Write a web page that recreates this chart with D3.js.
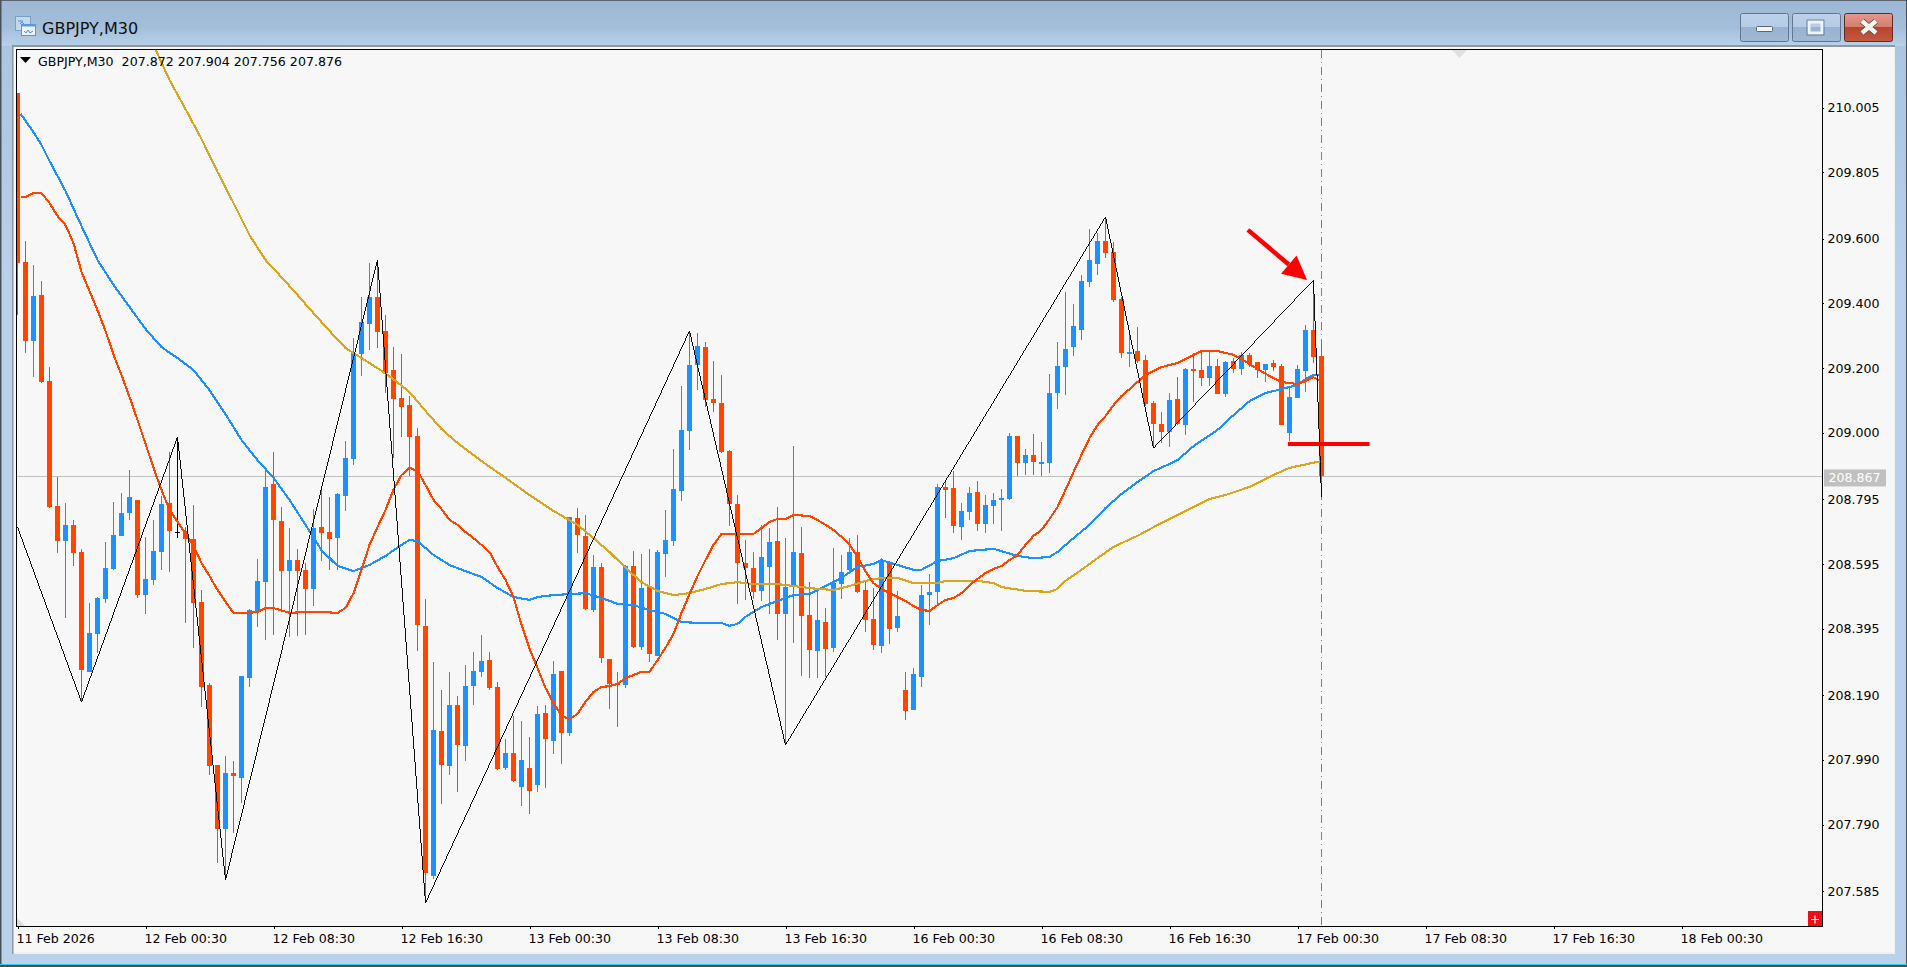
<!DOCTYPE html>
<html>
<head>
<meta charset="utf-8">
<title>GBPJPY,M30</title>
<script src="https://cdn.jsdelivr.net/npm/d3@7/dist/d3.min.js"></script>
<style>
html, body { margin: 0; padding: 0; background: #b9d1ea; overflow: hidden; }
svg { display: block; }
text { font-family: "DejaVu Sans", sans-serif; }
</style>
</head>
<body>
<svg id="chart" width="1907" height="967"></svg>
<script>
var opens = [
	210.050,209.528,209.283,209.426,209.160,208.774,208.666,208.716,208.632,208.262,
	208.379,208.487,208.580,208.682,208.753,208.793,208.499,208.546,208.632,208.784,
	208.694,208.697,208.672,208.478,208.221,207.974,207.776,207.949,207.934,208.243,
	208.450,208.539,208.842,208.728,208.573,208.607,208.577,208.518,208.709,208.694,
	208.675,208.805,208.919,209.244,209.336,209.420,209.315,209.194,209.108,209.086,
	208.990,208.404,207.631,208.079,207.971,208.160,208.033,208.218,208.262,208.298,
	208.215,207.965,208.011,207.906,207.965,207.912,208.135,208.048,208.265,208.073,
	208.737,208.682,208.453,208.586,208.302,208.227,208.221,208.589,208.339,208.524,
	208.311,208.626,208.666,208.820,209.006,209.210,209.265,209.105,209.092,208.944,
	208.781,208.598,208.583,208.512,208.586,208.666,208.441,208.524,208.629,208.437,
	208.326,208.416,208.336,208.533,208.577,208.632,208.515,208.425,208.342,208.601,
	208.397,208.206,208.144,208.246,208.499,208.509,208.833,208.830,208.709,208.756,
	208.818,208.719,208.774,208.793,208.796,208.990,208.907,208.932,208.904,208.907,
	209.123,209.203,209.265,209.318,209.466,209.522,209.592,209.559,209.413,209.244,
	209.253,209.225,209.092,209.027,209.003,209.105,209.024,209.197,209.194,209.169,
	209.207,209.120,209.222,209.197,209.241,209.219,209.194,209.216,209.207,208.999,
	209.108,209.191,209.318,209.237];
var highs = [
	210.050,209.592,209.518,209.469,209.203,208.864,208.784,208.731,208.642,208.475,
	208.493,208.663,208.787,208.815,208.886,208.793,208.679,208.731,208.805,208.941,
	208.987,208.709,208.777,208.515,208.227,207.974,208.002,207.987,208.249,208.456,
	208.610,208.895,208.941,208.771,208.706,208.642,208.598,208.765,208.830,208.802,
	208.815,208.975,209.293,209.420,209.525,209.534,209.364,209.265,209.244,209.114,
	209.015,208.487,208.292,208.206,208.262,208.187,208.283,208.323,208.376,208.323,
	208.231,208.054,208.126,208.110,208.061,208.157,208.160,208.295,208.265,208.740,
	208.768,208.747,208.623,208.598,208.302,208.262,208.592,208.635,208.626,208.642,
	208.638,208.762,208.950,209.145,209.315,209.309,209.281,209.222,209.179,208.947,
	208.808,208.669,208.632,208.716,208.706,208.771,208.675,208.959,208.709,208.539,
	208.515,208.459,208.644,208.623,208.675,208.685,208.539,208.521,208.613,208.604,
	208.512,208.262,208.274,208.530,208.564,208.842,208.854,208.882,208.784,208.833,
	208.851,208.808,208.815,208.827,208.999,208.990,208.950,208.996,208.972,209.182,
	209.281,209.435,209.398,209.488,209.630,209.617,209.667,209.590,209.420,209.302,
	209.327,209.241,209.098,209.064,209.123,209.172,209.200,209.247,209.250,209.250,
	209.228,209.222,209.231,209.250,209.247,209.219,209.213,209.225,209.213,209.142,
	209.210,209.333,209.472,209.287];
var lows = [
	209.364,209.247,209.172,209.154,208.768,208.629,208.428,208.589,208.169,208.262,
	208.320,208.475,208.577,208.682,208.731,208.490,208.441,208.530,208.577,208.570,
	208.675,208.413,208.336,208.153,207.943,207.671,207.619,207.764,207.857,208.215,
	208.400,208.360,208.376,208.447,208.370,208.373,208.376,208.465,208.604,208.577,
	208.577,208.759,208.901,209.176,209.256,209.262,209.123,208.922,208.987,208.867,
	208.326,207.548,207.622,207.854,207.943,207.891,207.987,208.160,208.246,208.206,
	207.959,207.959,207.922,207.848,207.823,207.891,207.903,208.008,207.977,208.064,
	208.629,208.453,208.447,208.289,208.147,208.091,208.212,208.336,208.329,208.292,
	208.311,208.555,208.651,208.790,208.947,209.132,209.080,209.064,208.938,208.712,
	208.472,208.484,208.487,208.481,208.441,208.360,208.036,208.351,208.249,208.243,
	208.243,208.246,208.323,208.487,208.570,208.505,208.385,208.329,208.320,208.348,
	208.385,208.113,208.144,208.215,208.407,208.468,208.737,208.691,208.669,208.731,
	208.697,208.691,208.719,208.697,208.793,208.867,208.870,208.870,208.867,208.876,
	209.074,209.117,209.237,209.287,209.451,209.488,209.540,209.404,209.231,209.203,
	209.216,209.083,208.956,208.969,208.956,209.024,208.993,209.095,209.145,209.145,
	209.120,209.111,209.185,209.179,209.203,209.169,209.157,209.191,209.024,208.975,
	209.108,209.126,209.216,208.802];
var closes = [
	209.525,209.283,209.423,209.157,208.771,208.666,208.716,208.629,208.268,208.382,
	208.490,208.583,208.685,208.753,208.802,208.499,208.549,208.635,208.781,208.697,
	208.694,208.672,208.475,208.215,207.971,207.776,207.949,207.940,208.249,208.453,
	208.543,208.833,208.731,208.573,208.607,208.573,208.518,208.706,208.691,208.672,
	208.811,208.922,209.247,209.342,209.420,209.312,209.185,209.105,209.080,208.987,
	208.407,207.641,208.082,207.974,208.160,208.036,208.218,208.265,208.295,208.212,
	207.962,208.011,207.925,207.990,207.894,208.132,208.054,208.255,208.073,208.740,
	208.685,208.456,208.586,208.305,208.224,208.221,208.589,208.339,208.521,208.317,
	208.632,208.669,208.827,209.009,209.210,209.268,209.102,209.092,208.941,208.781,
	208.598,208.583,208.509,208.617,208.663,208.441,208.524,208.632,208.434,208.329,
	208.422,208.332,208.536,208.570,208.632,208.509,208.422,208.345,208.607,208.394,
	208.434,208.141,208.255,208.499,208.509,208.833,208.824,208.712,208.759,208.815,
	208.719,208.777,208.793,208.799,208.990,208.907,208.932,208.910,208.910,209.123,
	209.207,209.259,209.330,209.469,209.534,209.592,209.556,209.410,209.247,209.250,
	209.222,209.089,209.027,209.003,209.102,209.027,209.197,209.191,209.169,209.207,
	209.120,209.219,209.197,209.241,209.213,209.194,209.213,209.203,209.024,209.111,
	209.197,209.318,209.234,208.867];

// moving averages, [bar index, price]
var maFast = [[0.4,209.728],[1,209.728],[2,209.741],[3,209.741],[4,209.710],[5,209.670],[6,209.642],[7,209.586],[8,209.497],[9,209.438],
	[10,209.379],[11,209.315],[12,209.241],[13,209.179],[14,209.111],[15,209.040],[16,208.966],[17,208.892],[18,208.824],[19,208.762],
	[20,208.725],[21,208.688],[22,208.651],[23,208.598],[24,208.558],[25,208.515],[26,208.478],[27,208.444],[29,208.444],[30,208.447],
	[31,208.459],[32,208.459],[34,208.444],[36,208.447],[38,208.447],[40,208.444],[41,208.459],[42,208.505],[43,208.577],[44,208.654],
	[45,208.709],[46,208.762],[47,208.824],[48,208.870],[49,208.892],[50,208.882],[51,208.839],[52,208.793],[53,208.765],[54,208.731],
	[55,208.716],[56,208.694],[57,208.675],[58,208.654],[59,208.632],[60,208.586],[61,208.546],[62,208.493],[63,208.407],[64,208.333],
	[65,208.274],[66,208.212],[67,208.166],[68,208.126],[69,208.116],[70,208.132],[71,208.169],[72,208.200],[73,208.215],[74,208.218],
	[75,208.224],[76,208.243],[77,208.252],[78,208.262],[79,208.262],[80,208.298],[81,208.336],[82,208.379],[83,208.444],[84,208.502],
	[85,208.558],[86,208.607],[87,208.654],[88,208.688],[90,208.688],[92,208.688],[93,208.706],[94,208.725],[95,208.734],[96,208.734],
	[97,208.747],[99,208.743],[100,208.731],[101,208.716],[102,208.700],[103,208.679],[104,208.654],[105,208.617],[106,208.573],[107,208.536],
	[108,208.518],[109,208.505],[110,208.493],[111,208.481],[112,208.465],[113,208.453],[114,208.450],[115,208.468],[116,208.484],[117,208.490],
	[118,208.505],[119,208.530],[120,208.549],[121,208.567],[122,208.580],[123,208.589],[124,208.607],[125,208.623],[126,208.654],[127,208.682],
	[128,208.700],[129,208.734],[130,208.771],[131,208.824],[132,208.879],[133,208.932],[134,208.984],[135,209.024],[136,209.052],[137,209.086],
	[138,209.114],[139,209.135],[140,209.157],[141,209.179],[142,209.191],[143,209.203],[145,209.216],[147,209.241],[148,209.253],[150,209.253],
	[152,209.241],[153,209.228],[154,209.213],[155,209.197],[157,209.169],[158,209.157],[160,209.151],[161,209.160],[162,209.172],[162.7,209.163]];
var maMid = [[0.4,209.985],[2,209.929],[3,209.889],[4,209.840],[6,209.747],[8,209.639],[10,209.534],[12,209.457],[14,209.389],[16,209.321],
	[18,209.265],[20,209.231],[22,209.194],[24,209.132],[26,209.058],[28,208.978],[30,208.916],[32,208.861],[34,208.793],[36,208.716],
	[38,208.638],[40,208.589],[42,208.573],[44,208.592],[46,208.620],[48,208.654],[49,208.669],[50,208.666],[52,208.623],[54,208.592],
	[56,208.573],[58,208.555],[60,208.521],[62,208.493],[64,208.484],[65,208.493],[67,208.499],[71,208.505],[73,208.490],[75,208.472],
	[77,208.468],[79,208.453],[81,208.441],[83,208.416],[85,208.413],[88,208.413],[89,208.404],[90,208.410],[91,208.432],[93,208.462],
	[95,208.481],[97,208.499],[99,208.502],[101,208.527],[103,208.552],[105,208.586],[107,208.595],[108,208.607],[110,208.592],[112,208.577],
	[113,208.577],[115,208.604],[117,208.613],[119,208.635],[122,208.642],[125,208.620],[127,208.613],[129,208.617],[130,208.632],[132,208.675],
	[134,208.716],[136,208.768],[138,208.811],[140,208.848],[142,208.882],[144,208.904],[145,208.916],[147,208.959],[150,209.009],[152,209.055],
	[154,209.098],[156,209.123],[158,209.135],[160,209.148],[161,209.166],[162,209.179],[162.7,209.179]];
var maSlow = [[17,210.198],[19,210.090],[21,210.000],[23,209.908],[25,209.806],[27,209.710],[29,209.611],[31,209.534],[33,209.481],[35,209.426],
	[37,209.370],[39,209.315],[41,209.262],[43,209.231],[45,209.200],[47,209.166],[49,209.126],[51,209.068],[53,209.012],[55,208.969],
	[58,208.913],[61,208.861],[64,208.808],[67,208.759],[70,208.716],[72,208.675],[74,208.632],[76,208.583],[78,208.539],[80,208.512],
	[82,208.499],[84,208.505],[86,208.518],[88,208.533],[90,208.539],[92,208.533],[95,208.533],[97,208.527],[100,208.518],[102,208.515],
	[104,208.527],[106,208.543],[108,208.552],[110,208.552],[112,208.536],[115,208.536],[116,208.543],[120,208.543],[122,208.536],[123,208.524],
	[126,208.512],[129,208.509],[130,208.518],[131,208.543],[133,208.577],[135,208.613],[137,208.648],[140,208.682],[143,208.722],[146,208.759],
	[149,208.796],[151,208.808],[154,208.833],[157,208.870],[159,208.892],[163,208.913]];
var zigzag = [[0,208.709],[8,208.169],[20,208.987],[26,207.619],[45,209.534],[51,207.548],[84,209.315],[96,208.036],[136,209.667],[142,208.953],[162,209.472],[163,208.802]];

var priceTicks = [210.005,209.805,209.600,209.400,209.200,209.000,208.795,208.595,208.395,208.190,207.990,207.790,207.585];
var timeTicks = [0,16,32,48,64,80,96,112,128,144,160,176,192,208];
var timeLabels = ['11 Feb 2026','12 Feb 00:30','12 Feb 08:30','12 Feb 16:30','13 Feb 00:30','13 Feb 08:30','13 Feb 16:30',
	'16 Feb 00:30','16 Feb 08:30','16 Feb 16:30','17 Feb 00:30','17 Feb 08:30','17 Feb 16:30','18 Feb 00:30'];
var lastPrice = 208.867;
var lastBar = 163;
var legendText = 'GBPJPY,M30  207.872 207.904 207.756 207.876';
var arrowFrom = [153.8,209.627], arrowTo = [161.2,209.472];
var markLine = [[158.8,208.966],[169,208.966]];

var bull_color = '#1e90ff', bear_color = '#ff4500', gold_color = '#daa520';
var plot = {left:17, right:1822, top:50, bottom:926};
var label_size = 12.6;

var svg_elem = d3.select('#chart');
var defs = svg_elem.append('defs');

function add_gradient(id, stops)  {
	var grad = defs.append('linearGradient').attr('id', id).attr('x1', 0).attr('y1', 0).attr('x2', 0).attr('y2', 1);
	stops.forEach(function(d)  {
		grad.append('stop').attr('offset', d[0]).attr('stop-color', d[1]);
	});
}
add_gradient('frameGrad', [[0,'#9cb7d5'],[0.6,'#a4bfda'],[1,'#b8d1ea']]);
add_gradient('btnGrad', [[0,'#bcd2ea'],[0.49,'#b6cce5'],[0.5,'#98b2cf'],[1,'#a0bad6']]);
add_gradient('closeGrad', [[0,'#e29a8e'],[0.49,'#d67c6c'],[0.5,'#b8452b'],[1,'#c25a42']]);
add_gradient('sideGrad', [[0,'#a9c3de'],[0.3,'#b9d1ea'],[1,'#b9d1ea']]);

defs.append('clipPath').attr('id', 'plotClip').append('rect')
	.attr('x', plot.left).attr('y', plot.top).attr('width', plot.right-plot.left).attr('height', plot.bottom-plot.top);

// window frame
svg_elem.append('rect').attr('width', 1907).attr('height', 967).attr('fill', 'url(#sideGrad)');
svg_elem.append('rect').attr('width', 1907).attr('height', 46).attr('fill', 'url(#frameGrad)');
svg_elem.append('rect').attr('x', 0).attr('y', 0).attr('width', 1907).attr('height', 1).attr('fill', '#5a6470');
svg_elem.append('rect').attr('x', 0).attr('y', 0).attr('width', 1.5).attr('height', 967).attr('fill', '#4a5058');
svg_elem.append('rect').attr('x', 1906).attr('y', 0).attr('width', 1).attr('height', 967).attr('fill', '#4a5058');
svg_elem.append('rect').attr('x', 0).attr('y', 964).attr('width', 1907).attr('height', 1).attr('fill', '#40c8e0');
svg_elem.append('rect').attr('x', 0).attr('y', 965).attr('width', 1907).attr('height', 2).attr('fill', '#4a5058');
svg_elem.append('rect').attr('x', 12).attr('y', 45).attr('width', 1883).attr('height', 909).attr('fill', '#f0f0f0');
svg_elem.append('rect').attr('x', 12).attr('y', 45).attr('width', 1883).attr('height', 2).attr('fill', '#8d98a3');
svg_elem.append('rect').attr('x', 12).attr('y', 45).attr('width', 1.5).attr('height', 909).attr('fill', '#8d98a3');
svg_elem.append('rect').attr('x', 14).attr('y', 47).attr('width', 1880).attr('height', 905).attr('fill', '#f7f7f7');

// title bar
var icon = svg_elem.append('g');
icon.append('rect').attr('x', 15.5).attr('y', 16.5).attr('width', 15).attr('height', 14).attr('fill', '#c6d8ee').attr('stroke', '#7f9ec6');
icon.append('path').attr('d', 'M18 21 h5 M20 24 l2 -2 l3 3').attr('fill', 'none').attr('stroke', '#4a8ad8');
icon.append('rect').attr('x', 21.5).attr('y', 24.5).attr('width', 14).attr('height', 11).attr('fill', '#eef4fb').attr('stroke', '#5f92d2');
icon.append('rect').attr('x', 21.5).attr('y', 24.5).attr('width', 14).attr('height', 2).attr('fill', '#5f9ade');
icon.append('path').attr('d', 'M24 31 l2 2 l2 -3 l2 3 l3 -2').attr('fill', 'none').attr('stroke', '#4a8ad8');
svg_elem.append('text').attr('x', 42).attr('y', 34).attr('font-size', 16).attr('fill', '#101010').text('GBPJPY,M30');

var btn_data = [{x:1740, fill:'url(#btnGrad)', stroke:'#62768c'}, {x:1792, fill:'url(#btnGrad)', stroke:'#62768c'}, {x:1844, fill:'url(#closeGrad)', stroke:'#5e2a2a'}];
svg_elem.selectAll('.winbtn').data(btn_data).enter().append('rect').attr('class', 'winbtn')
	.attr('x', d => d.x+0.5).attr('y', 13.5).attr('width', 48).attr('height', 28).attr('rx', 2)
	.attr('fill', d => d.fill).attr('stroke', d => d.stroke);
svg_elem.append('rect').attr('x', 1756.5).attr('y', 26.5).attr('width', 16).attr('height', 5).attr('rx', 1).attr('fill', '#f4f6f8').attr('stroke', '#56677a');
svg_elem.append('rect').attr('x', 1809).attr('y', 22).attr('width', 13).attr('height', 11).attr('fill', 'none').attr('stroke', '#f0f3f6').attr('stroke-width', 3);
svg_elem.append('rect').attr('x', 1807).attr('y', 20).attr('width', 17).attr('height', 15).attr('fill', 'none').attr('stroke', '#56677a').attr('stroke-width', 0.7);
svg_elem.append('path').attr('d', 'M1862 21 L1876 33 M1876 21 L1862 33').attr('fill', 'none').attr('stroke', '#50403c').attr('stroke-width', 6);
svg_elem.append('path').attr('d', 'M1862 21 L1876 33 M1876 21 L1862 33').attr('fill', 'none').attr('stroke', '#f6f3f0').attr('stroke-width', 4.5);

// scales
var x_scale = d3.scaleLinear().domain([0,1]).range([17.5,25.5]);
var y_scale = d3.scaleLinear().domain([210.005,207.585]).range([107.5,891]);

function ypx(v)  { return Math.round(y_scale(v)); }

var bars = opens.map(function(o, i)  {
	return {i:i, o:o, h:highs[i], l:lows[i], c:closes[i]};
});
function bar_color(d)  {
	if(d.c == d.o)
		return '#000000';
	return d.c > d.o ? bull_color : bear_color;
}

var chart_g = svg_elem.append('g').attr('clip-path', 'url(#plotClip)');

// last price line and the time cursor sit below the candles
chart_g.append('line').attr('x1', plot.left).attr('x2', plot.right).attr('y1', ypx(lastPrice)+0.5).attr('y2', ypx(lastPrice)+0.5)
	.attr('stroke', '#c0c0c0').attr('stroke-width', 1);
chart_g.append('line').attr('x1', x_scale(lastBar)).attr('x2', x_scale(lastBar)).attr('y1', plot.top).attr('y2', plot.bottom)
	.attr('stroke', '#808080').attr('stroke-width', 1).attr('stroke-dasharray', '8,4,1,4');

chart_g.selectAll('.wick').data(bars).enter().append('line').attr('class', 'wick')
	.attr('x1', d => x_scale(d.i)).attr('x2', d => x_scale(d.i))
	.attr('y1', d => ypx(d.h)).attr('y2', d => ypx(d.l))
	.attr('stroke', bar_color).attr('stroke-width', 1).attr('shape-rendering', 'crispEdges');
chart_g.selectAll('.body').data(bars).enter().append('rect').attr('class', 'body')
	.attr('x', d => x_scale(d.i)-2.5).attr('width', 5)
	.attr('y', d => Math.min(ypx(d.o),ypx(d.c)))
	.attr('height', d => Math.max(1, Math.abs(ypx(d.o)-ypx(d.c))))
	.attr('fill', bar_color).attr('shape-rendering', 'crispEdges');

var line_gen = d3.line().x(d => x_scale(d[0])).y(d => y_scale(d[1]));
var ma_lines = [{pts:maMid, color:bull_color}, {pts:maSlow, color:gold_color}, {pts:maFast, color:bear_color}];
chart_g.selectAll('.ma').data(ma_lines).enter().append('path').attr('class', 'ma')
	.attr('d', d => line_gen(d.pts)).attr('fill', 'none').attr('stroke', d => d.color).attr('stroke-width', 2.15)
	.attr('stroke-linejoin', 'round').attr('shape-rendering', 'crispEdges');
chart_g.append('path').attr('d', line_gen(zigzag)).attr('fill', 'none').attr('stroke', '#000000').attr('stroke-width', 0.95)
	.attr('shape-rendering', 'crispEdges');

// red annotations
var ax0 = x_scale(arrowFrom[0]), ay0 = y_scale(arrowFrom[1]), ax1 = x_scale(arrowTo[0]), ay1 = y_scale(arrowTo[1]);
var alen = Math.sqrt((ax1-ax0)*(ax1-ax0)+(ay1-ay0)*(ay1-ay0));
var ux = (ax1-ax0)/alen, uy = (ay1-ay0)/alen;
var head = 24, half = 12;
chart_g.append('line').attr('x1', ax0).attr('y1', ay0).attr('x2', ax1-ux*head).attr('y2', ay1-uy*head)
	.attr('stroke', '#ff0000').attr('stroke-width', 4.5);
chart_g.append('path')
	.attr('d', 'M'+ax1+' '+ay1+' L'+(ax1-ux*head-uy*half)+' '+(ay1-uy*head+ux*half)+' L'+(ax1-ux*head+uy*half)+' '+(ay1-uy*head-ux*half)+' Z')
	.attr('fill', '#ff0000');
chart_g.append('line').attr('x1', x_scale(markLine[0][0])).attr('x2', x_scale(markLine[1][0]))
	.attr('y1', y_scale(markLine[0][1])).attr('y2', y_scale(markLine[1][1]))
	.attr('stroke', '#ff0000').attr('stroke-width', 4);

// decorations inside the plot
chart_g.append('path').attr('d', 'M1452 50 L1467 50 L1459.5 58 Z').attr('fill', '#e0e0e0');
chart_g.append('path').attr('d', 'M17 918 L25 926 L17 926 Z').attr('fill', '#dcdcdc');
svg_elem.append('path').attr('d', 'M20 57 L31 57 L25.5 63 Z').attr('fill', '#000000');
svg_elem.append('text').attr('x', 38).attr('y', 65.5).attr('font-size', label_size).attr('fill', '#000000').attr('xml:space', 'preserve')
	.style('white-space', 'pre').text(legendText);
svg_elem.append('rect').attr('x', 1808).attr('y', 911).attr('width', 14).attr('height', 15).attr('fill', '#ec0f16');
svg_elem.append('path').attr('d', 'M1811 919.5 H1819 M1815 915.5 V923.5').attr('stroke', '#ffffff').attr('stroke-width', 1.2);

// axes
var axis_y = d3.axisRight(y_scale).tickValues(priceTicks).tickSize(2).tickPadding(3.5).tickFormat(d3.format('.3f'));
var axis_x = d3.axisBottom(x_scale).tickValues(timeTicks).tickSize(3).tickPadding(5).tickFormat(function(d, i)  { return timeLabels[i]; });

var gy = svg_elem.append('g').attr('transform', 'translate('+plot.right+',0)').call(axis_y);
gy.select('.domain').remove();
var gx = svg_elem.append('g').attr('transform', 'translate(0,'+plot.bottom+')').call(axis_x);
gx.select('.domain').remove();
gx.selectAll('text').attr('text-anchor', 'start').attr('dx', -1.5);
svg_elem.selectAll('.tick line').attr('stroke', '#000000').attr('shape-rendering', 'crispEdges');
svg_elem.selectAll('.tick text').attr('font-size', label_size).attr('font-family', '"DejaVu Sans", sans-serif').attr('fill', '#000000');

svg_elem.append('rect').attr('x', plot.left-0.5).attr('y', plot.top-0.5).attr('width', plot.right-plot.left+1).attr('height', plot.bottom-plot.top+0.5)
	.attr('fill', 'none').attr('stroke', '#000000').attr('stroke-width', 1).attr('shape-rendering', 'crispEdges');

// price tag
svg_elem.append('rect').attr('x', 1824).attr('y', y_scale(lastPrice)-6.5).attr('width', 62).attr('height', 17).attr('fill', '#c0c0c0');
svg_elem.append('text').attr('x', 1828.5).attr('y', y_scale(lastPrice)+6.5).attr('font-size', label_size).attr('fill', '#ffffff').text(d3.format('.3f')(lastPrice));
</script>
</body>
</html>
